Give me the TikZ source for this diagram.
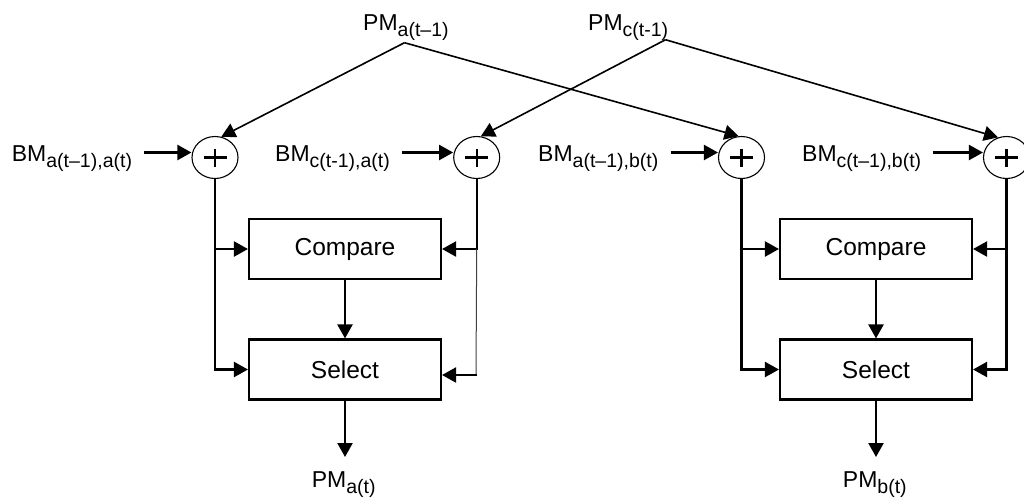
\documentclass[tikz,border=0pt]{standalone}
\usepackage{fontspec}
\setmainfont{Liberation Sans}
\usetikzlibrary{arrows.meta,calc,shapes.geometric}

% label with a lowered, smaller subscript
\newcommand\lbl[2]{#1\raisebox{-6pt}{\fontsize{19.5}{19.5}\selectfont #2}}

\begin{document}
\begin{tikzpicture}[x=1pt,y=-1pt,
  wire/.style={line width=2.2pt},
  arr/.style={wire,-{Triangle[length=14pt,width=15pt]}},
  feed/.style={line width=1.6pt,-{Triangle[length=14pt,width=15pt]}},
  adder/.style={ellipse,draw,line width=1.1pt,minimum width=46pt,minimum height=42pt,inner sep=0pt,
    path picture={\draw[line width=2.1pt]
      ([xshift=-11.5pt]path picture bounding box.center) -- ([xshift=11.5pt]path picture bounding box.center)
      ([yshift=-9pt]path picture bounding box.center) -- ([yshift=9pt]path picture bounding box.center);}},
  blk/.style={draw,line width=2.1pt,minimum width=192pt,minimum height=60pt,inner sep=0pt,
    font=\fontsize{24.5}{24.5}\selectfont},
  lab/.style={anchor=base west,inner sep=0pt,font=\fontsize{23}{23}\selectfont}]

\useasboundingbox (0,0) rectangle (1024,499);

% adders
\node[adder] (s1) at (215,157.5) {};
\node[adder] (s2) at (476.7,157.5) {};
\node[adder] (s3) at (741.5,157.5) {};
\node[adder] (s4) at (1006.5,157.5) {};

% compare / select blocks
\node[blk] (cmpL) at (345,249) {Compare};
\node[blk] (selL) at (345,369.5) {Select};
\node[blk] (cmpR) at (876,249) {Compare};
\node[blk] (selR) at (876,369.5) {Select};

% labels
\node[lab] (pmA) at (363,30.5) {\lbl{PM}{a(t–1)}};
\node[lab] (pmC) at (588,30.5) {\lbl{PM}{c(t-1)}};
\node[lab] (bm1) at (11.7,161.7) {\lbl{BM}{a(t–1),a(t)}};
\node[lab] (bm2) at (275,161.7) {\lbl{BM}{c(t-1),a(t)}};
\node[lab] (bm3) at (538,161.7) {\lbl{BM}{a(t–1),b(t)}};
\node[lab] (bm4) at (802,161.7) {\lbl{BM}{c(t–1),b(t)}};
\node[lab] (outA) at (311.7,487.5) {\lbl{PM}{a(t)}};
\node[lab] (outB) at (842.7,487.5) {\lbl{PM}{b(t)}};

% fan-out points of the previous path metrics
\coordinate (ja) at (404.5,42.7);
\coordinate (jc) at (665.5,39.7);
\draw[feed] (ja) -- (s1.73);
\draw[feed] (ja) -- (s3.98);
\draw[feed] (jc) -- (s2.79);
\draw[feed] (jc) -- (s4.113);

% branch metric inputs
\foreach \b/\s in {bm1/s1,bm2/s2,bm3/s3,bm4/s4}
  \draw[arr] ($(\b.east |- \s.west)+(12,-5)$) -- ($(\s.west)+(0,-5)$);

% left add-compare-select
\draw[arr] (s1.south) |- (cmpL.west);
\draw[arr] (s1.south) |- (selL.west);
\draw[arr] (s2.south) |- (cmpL.east);
\coordinate (kL) at (s2.south |- cmpL.east);
\coordinate (mL) at ($(kL)+(-0.7,126)$);
\draw[line width=1pt,black!75] (kL) -- (mL);
\draw[arr,shorten <=-1.1pt] (mL) -- (selL.east |- mL);
\draw[arr] (cmpL.south) -- (selL.north);
\coordinate (oA) at (345,457);
\draw[arr] (selL.south) -- (oA);

% right add-compare-select
\draw[arr] (s3.south) |- (cmpR.west);
\draw[arr] (s3.south) |- (selR.west);
\draw[arr] (s4.south) |- (cmpR.east);
\draw[arr] (s4.south) |- (selR.east);
\draw[arr] (cmpR.south) -- (selR.north);
\coordinate (oB) at (876,457);
\draw[arr] (selR.south) -- (oB);

\end{tikzpicture}
\end{document}
